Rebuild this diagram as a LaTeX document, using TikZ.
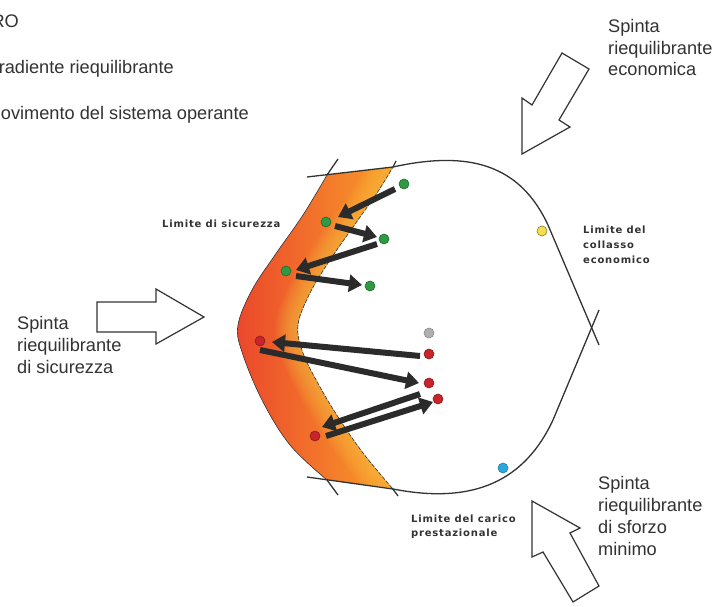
\documentclass[tikz,border=0pt]{standalone}
\usepackage{fontspec}
\setmainfont{Liberation Sans}
\newfontfamily\labfont[LetterSpace=8]{DejaVu Sans}
\usetikzlibrary{arrows.meta}
\definecolor{ink}{HTML}{333333}
\definecolor{darrow}{HTML}{2B2B2B}
\definecolor{gfill}{HTML}{2F9A43}
\definecolor{gline}{HTML}{1D6B2A}
\definecolor{rfill}{HTML}{C8242B}
\definecolor{rline}{HTML}{8A1A1A}
\definecolor{oredL}{HTML}{E8362C}
\definecolor{oorM}{HTML}{F47A20}
\definecolor{oyelR}{HTML}{F7922A}
\definecolor{glow}{HTML}{FBC040}
\definecolor{yfill}{HTML}{F4E04D}
\definecolor{yline}{HTML}{8C7D2A}
\definecolor{bfill}{HTML}{2AA7DF}
\definecolor{bline}{HTML}{1F7FA8}
\definecolor{grfill}{HTML}{B0B0B0}
\definecolor{grline}{HTML}{888888}
\tikzset{
  outline/.style={ink, line width=1.3pt},
  hollow/.style={ink, line width=1.2pt, fill=white, line join=miter},
  bigtext/.style={font=\fontsize{18.2}{21.7}\selectfont, text=ink, inner sep=0pt, align=left},
  labtext/.style={font=\labfont\bfseries\fontsize{10}{14.7}\selectfont, text=ink, inner sep=0pt, align=left},
  dotbase/.style={circle, minimum size=10pt, inner sep=0pt, line width=0.6pt},
  gdot/.style={dotbase, fill=gfill, draw=gline},
  rdot/.style={dotbase, fill=rfill, draw=rline},
  bigarrow/.style={darrow, line width=6pt, -{Triangle[length=13pt,width=17pt]}},
}
\begin{document}
\begin{tikzpicture}[x=1pt,y=-1pt]
\useasboundingbox[fill=white] (0,0) rectangle (713,607);
% orange region
\begin{scope}
  \clip plot[smooth, tension=0.6] coordinates {(327,175) (303,215) (275,255) (252,290) (238,325) (242,352) (262,400) (290,445) (327,480)}
    -- plot[smooth, tension=0.6] coordinates {(392,488) (363,453) (340,420) (320,387) (303,353) (298,325) (310,293) (330,260) (353,227) (377,193) (393,167)} -- cycle;
  \shade[left color=oredL, middle color=oorM, right color=oyelR] (205,160) rectangle (372,500);
  \fill[oyelR] (371,160) rectangle (400,500);
  \foreach \w in {4,8,...,44}
    \draw[glow, line width=\w pt, opacity=0.08] plot[smooth, tension=0.6] coordinates {(392,488) (363,453) (340,420) (320,387) (303,353) (298,325) (310,293) (330,260) (353,227) (377,193) (393,167)};
\end{scope}
\draw[ink, line width=0.6pt] plot[smooth, tension=0.6] coordinates {(327,175) (303,215) (275,255) (252,290) (238,325) (242,352) (262,400) (290,445) (327,480)};
\draw[ink, line width=0.6pt, dash pattern=on 4pt off 1.5pt] plot[smooth, tension=0.6] coordinates {(392,488) (363,453) (340,420) (320,387) (303,353) (298,325) (310,293) (330,260) (353,227) (377,193) (393,167)};
% main outline
\draw[outline] (307,177) -- (393,167) .. controls (470,150) and (520,165) .. (548,225) -- (599,345);
\draw[outline] (599,310) -- (553,420) .. controls (525,480) and (475,505) .. (393,489) -- (307,477);
% ticks
\draw[outline] (327,175) -- (338,159);
\draw[outline] (393,167) -- (396,161);
\draw[outline] (327,480) -- (338,495);
\draw[outline] (392,488) -- (398,496);
% hollow arrows
\draw[hollow] (562,53) -- (589,69) -- (559,120) -- (570,127) -- (522,154) -- (522,98) -- (532,105) -- cycle;
\draw[hollow] (97,302) -- (156,302) -- (156,289) -- (204,317) -- (156,344) -- (156,332) -- (97,332) -- cycle;
\draw[hollow] (532,501) -- (580,528) -- (570,533) -- (599,586) -- (573,602) -- (543,552) -- (532,557) -- cycle;
% texts
\node[bigtext, anchor=base east] (t1) at (19,28) {RO};
\node[bigtext, anchor=base east] (t2) at (174,74) {radiente riequilibrante};
\node[bigtext, anchor=base east] (t3) at (249,120) {ovimento del sistema operante};
\node[bigtext, anchor=base west] (sE) at (608,76) {Spinta\\riequilibrante\\economica};
\node[bigtext, anchor=base west] (sS) at (17,373) {Spinta\\riequilibrante\\di sicurezza};
\node[bigtext, anchor=base west] (sM) at (598,555) {Spinta\\riequilibrante\\di sforzo\\minimo};
\node[labtext, anchor=base west] (lS) at (162,228) {Limite di sicurezza};
\node[labtext, anchor=base west] (lC) at (583,263) {Limite del\\collasso\\economico};
\node[labtext, anchor=base west, font=\labfont\bfseries\fontsize{10}{14}\selectfont] (lP) at (411,536) {Limite del carico\\prestazionale};
% dots
\node[gdot] (G1) at (404,184) {};
\node[gdot] (G2) at (326,222) {};
\node[gdot] (G3) at (384,239) {};
\node[gdot] (G4) at (286,271) {};
\node[gdot] (G5) at (370,286) {};
\node[rdot] (R1) at (260,341) {};
\node[rdot] (R2) at (429,354) {};
\node[rdot] (R3) at (429,383) {};
\node[rdot] (R4) at (438,399) {};
\node[rdot] (R5) at (315,436) {};
\node[dotbase, fill=grfill, draw=grline] (Gy) at (429,333) {};
\node[dotbase, fill=yfill, draw=yline] (Y) at (542,231) {};
\node[dotbase, fill=bfill, draw=bline] (B) at (503,468) {};
% thick arrows
\draw[bigarrow] ([shift={(-9,5)}]G1.center) -- ([shift={(12,-5)}]G2.center);
\draw[bigarrow] ([shift={(9,4)}]G2.center) -- ([shift={(-7,-2)}]G3.center);
\draw[bigarrow] ([shift={(-7,5)}]G3.center) -- ([shift={(10,-1)}]G4.center);
\draw[bigarrow] ([shift={(10,5)}]G4.center) -- ([shift={(-8,-1)}]G5.center);
\draw[bigarrow] ([shift={(-9,2)}]R2.center) -- ([shift={(12,1)}]R1.center);
\draw[bigarrow] ([shift={(0,9)}]R1.center) -- ([shift={(-10,0)}]R3.center);
\draw[bigarrow] ([shift={(-9,11)}]R3.center) -- ([shift={(7,-9)}]R5.center);
\draw[bigarrow] ([shift={(11,0)}]R5.center) -- ([shift={(-5,3)}]R4.center);
\end{tikzpicture}
\end{document}
